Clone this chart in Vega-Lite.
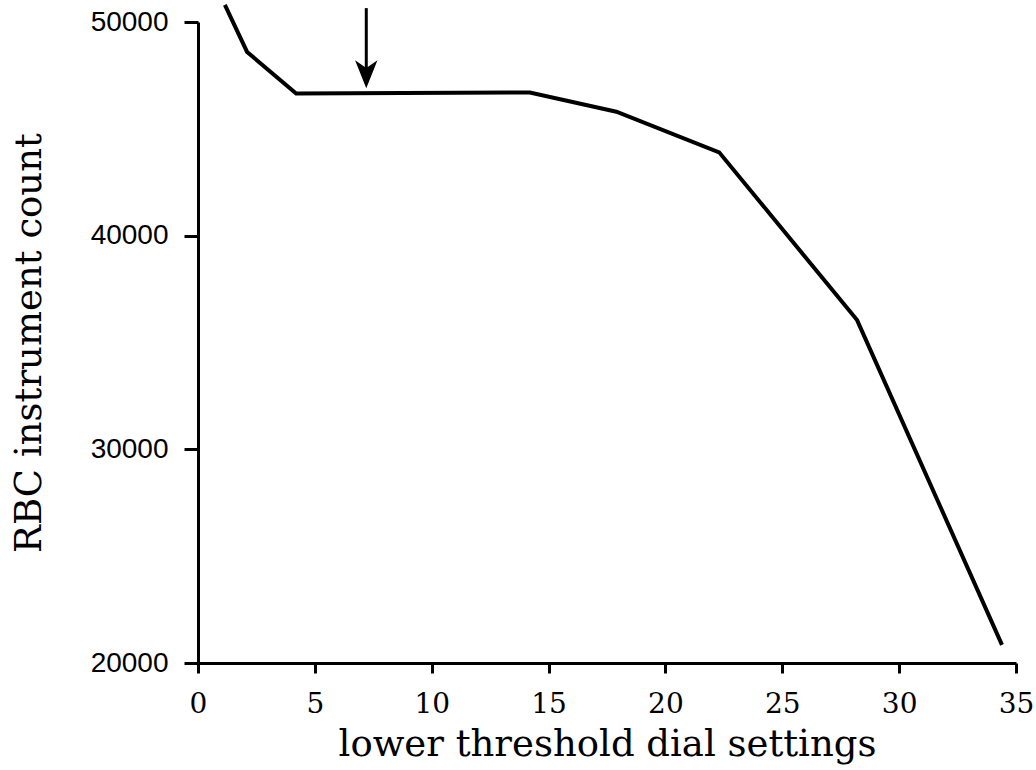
{
  "$schema": "https://vega.github.io/schema/vega-lite/v6.json",
  "autosize": "none",
  "width": 818,
  "height": 641,
  "padding": {"left": 198, "top": 22, "right": 20, "bottom": 107},
  "background": "white",
  "config": {
    "view": {"stroke": null},
    "axis": {
      "grid": false,
      "domainColor": "black",
      "domainWidth": 3,
      "tickColor": "black",
      "tickWidth": 3,
      "labelColor": "black",
      "titleColor": "black",
      "titleFontWeight": "normal"
    }
  },
  "datasets": {
    "curve": [
      {"setting": 1.15, "count": 50800},
      {"setting": 2.1, "count": 48600},
      {"setting": 4.2, "count": 46650},
      {"setting": 14.2, "count": 46700},
      {"setting": 17.9, "count": 45800},
      {"setting": 22.3, "count": 43900},
      {"setting": 28.2, "count": 36050},
      {"setting": 34.4, "count": 20850}
    ],
    "arrow": [
      {"setting": 7.2, "top": 50650, "bottom": 47100, "head": 47550}
    ]
  },
  "layer": [
    {
      "data": {"name": "curve"},
      "mark": {"type": "line", "color": "black", "strokeWidth": 4, "clip": false},
      "encoding": {
        "x": {
          "field": "setting", "type": "quantitative",
          "scale": {"domain": [0, 35], "nice": false, "zero": false},
          "axis": {
            "values": [0, 5, 10, 15, 20, 25, 30, 35],
            "title": "lower threshold dial  settings",
            "titleFont": "DejaVu Serif",
            "titleFontSize": 37,
            "titlePadding": 8,
            "labelFont": "DejaVu Serif",
            "labelFontSize": 28,
            "labelPadding": 17,
            "tickSize": 10,
            "labelFlush": false
          }
        },
        "y": {
          "field": "count", "type": "quantitative",
          "scale": {"domain": [20000, 50000], "nice": false, "zero": false},
          "axis": {
            "values": [20000, 30000, 40000, 50000],
            "format": "d",
            "title": "RBC instrument count",
            "titleFont": "DejaVu Serif",
            "titleFontSize": 37,
            "titlePadding": 42,
            "labelFont": "Liberation Sans",
            "labelFontSize": 28,
            "labelPadding": 16,
            "tickSize": 14
          }
        }
      }
    },
    {
      "data": {"name": "arrow"},
      "mark": {"type": "rule", "color": "black", "strokeWidth": 3, "clip": false},
      "encoding": {
        "x": {"field": "setting", "type": "quantitative"},
        "y": {"field": "top", "type": "quantitative"},
        "y2": {"field": "bottom"}
      }
    },
    {
      "data": {"name": "arrow"},
      "mark": {
        "type": "point",
        "shape": "M-0.8,-1L0,1L0.8,-1L0,-0.45Z",
        "filled": true,
        "color": "black",
        "opacity": 1,
        "size": 784,
        "clip": false
      },
      "encoding": {
        "x": {"field": "setting", "type": "quantitative"},
        "y": {"field": "head", "type": "quantitative"}
      }
    }
  ]
}
